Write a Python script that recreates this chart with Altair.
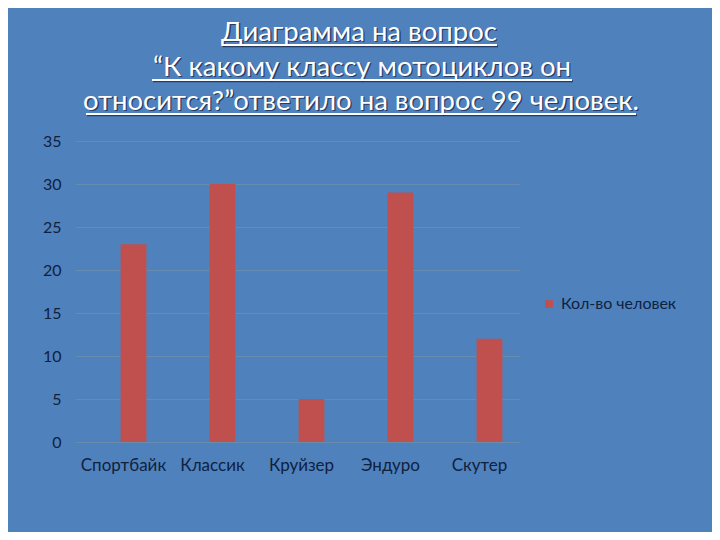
import altair as alt
import pandas as pd

categories = ["Спортбайк", "Классик", "Круйзер", "Эндуро", "Скутер"]
values = [23, 30, 5, 29, 12]
series_name = "Кол-во человек"
title_lines = [
    "Диаграмма на вопрос",
    "“К какому классу мотоциклов он",
    "относится?”ответило на вопрос 99 человек.",
]

BG = "#4f81bd"
BAR = "#c0504d"
INK = "#10213f"
FONT = "Lato"

df = pd.DataFrame({"cat": categories, "val": values, "series": [series_name] * len(values)})

bars = alt.Chart(df).mark_bar(xOffset=14).encode(
    x=alt.X("cat:N", sort=categories, title=None,
            scale=alt.Scale(paddingInner=0.71, paddingOuter=0.355),
            axis=alt.Axis(labelAngle=0, labelOffset=4, labelPadding=15, ticks=False,
                          domain=False, grid=False, labelFont=FONT, labelFontSize=17,
                          labelColor=INK)),
    y=alt.Y("val:Q", title=None,
            scale=alt.Scale(domain=[0, 35], nice=False),
            axis=alt.Axis(values=[0, 5, 10, 15, 20, 25, 30, 35], ticks=False, domain=False,
                          labelPadding=14, labelFont=FONT, labelFontSize=16, labelColor=INK,
                          gridColor="#7491a6", gridWidth=1, gridOpacity=0.7)),
    color=alt.Color("series:N", scale=alt.Scale(range=[BAR]),
                    legend=alt.Legend(title=None, orient="none", legendX=466, legendY=155,
                                      symbolType="square", symbolSize=60, labelFont=FONT,
                                      labelFontSize=16, labelColor=INK, symbolStrokeWidth=0)),
)

# title lines: (center x, baseline y, underline x1, x2, underline y) relative to plot origin
title_pos = [
    (284, -100, 147, 422, -96),
    (287, -65, 77, 497, -61),
    (286, -31, 11, 561, -27),
]

layers = [bars]
for line, (cx, by, ux1, ux2, uy) in zip(title_lines, title_pos):
    tdf = pd.DataFrame({"t": [line]})
    shadow = alt.Chart(tdf).mark_text(align="center", baseline="alphabetic", font=FONT,
                                      fontSize=27.5, color="#1b2b4f", opacity=0.8,
                                      dx=1.3, dy=1.3).encode(
        text="t:N", x=alt.value(cx), y=alt.value(by))
    txt = alt.Chart(tdf).mark_text(align="center", baseline="alphabetic", font=FONT,
                                   fontSize=27.5, color="white").encode(
        text="t:N", x=alt.value(cx), y=alt.value(by))
    ul_sh = alt.Chart(tdf).mark_rule(color="#1b2b4f", strokeWidth=2, opacity=0.8).encode(
        x=alt.value(ux1 + 1), x2=alt.value(ux2 + 1), y=alt.value(uy + 1.3))
    ul = alt.Chart(tdf).mark_rule(color="white", strokeWidth=2).encode(
        x=alt.value(ux1), x2=alt.value(ux2), y=alt.value(uy))
    layers += [shadow, ul_sh, txt, ul]

chart = alt.layer(*layers).properties(
    width=445, height=301,
    background=BG,
    padding={"left": 67, "top": 133, "right": 192, "bottom": 90},
    autosize=alt.AutoSizeParams(type="none"),
).configure_view(stroke=None)

chart.save("out.html", embed_options={"renderer": "svg", "actions": False})
